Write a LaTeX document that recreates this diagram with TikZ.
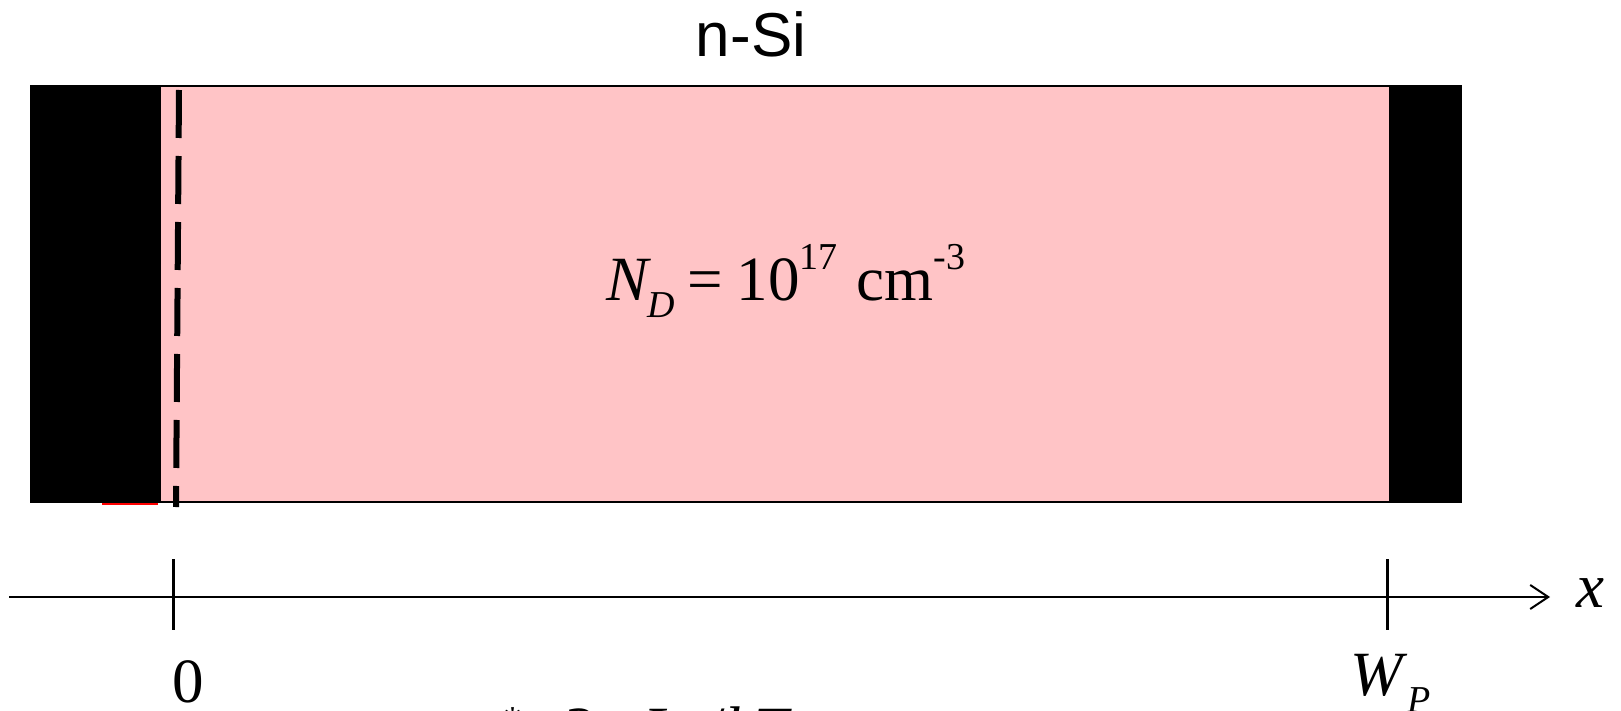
\documentclass[tikz,border=0pt]{standalone}
\usepackage{fontspec}
\setmainfont{Liberation Serif}
\setsansfont{Liberation Sans}
\usetikzlibrary{arrows.meta}
\definecolor{nsipink}{RGB}{255,196,198}
\newcommand{\mysubs}[1]{\raisebox{-0.28em}{\fontsize{38}{40}\selectfont #1}}
\newcommand{\mysups}[1]{\raisebox{0.48em}{\fontsize{38}{40}\selectfont #1}}
\newcommand{\mystar}{\raisebox{0.27em}{\fontsize{38}{40}\selectfont *}}
\tikzset{
  contact/.style={fill=black, draw=black, line width=1pt},
  bulk/.style={fill=nsipink, draw=none},
  edgeline/.style={line width=2pt, draw=black},
  axisline/.style={line width=2pt, -{Straight Barb[length=18pt,width=24pt,line width=2pt]}},
  tickmark/.style={line width=3pt},
  bigtext/.style={font=\fontsize{63}{70}\selectfont, inner sep=0pt},
  sitext/.style={font=\sffamily\fontsize{62}{70}\selectfont, inner sep=0pt},
  dashline/.style={line width=6pt, dash pattern=on 48pt off 18pt}
}
\begin{document}
\begin{tikzpicture}[x=1pt,y=-1pt]
\useasboundingbox (0,0) rectangle (1621,711);
% bulk and contacts
\fill[bulk] (160,86) rectangle (1389,502);
\draw[edgeline] (160,86) -- (1389,86);
\draw[edgeline] (160,502) -- (1389,502);
\filldraw[contact] (30,86) rectangle (160,502);
\filldraw[contact] (1389,86) rectangle (1461,502);
\draw[red, line width=2pt] (102,503.5) -- (158,503.5);
% dashed boundary
\coordinate (dtop) at (179,90);
\coordinate (dbot) at (176,507);
\draw[dashline] (dtop) -- (dbot);
% labels
\node[sitext, anchor=base] (nsi) at (751,57) {n-Si};
\node[bigtext, anchor=base west] (nd) at (606,300) {\textit{N}\kern-0.06em\mysubs{\textit{D}}\kern0.2em=\kern0.22em10\mysups{17}\kern0.3em cm\mysups{-3}};
% axis
\coordinate (axs) at (9,597);
\coordinate (axe) at (1550,597);
\draw[axisline] (axs) -- (axe);
\coordinate (t0a) at (173,559);
\coordinate (t0b) at (173,630);
\coordinate (twa) at (1387,559);
\coordinate (twb) at (1387,630);
\draw[tickmark] (t0a) -- (t0b);
\draw[tickmark] (twa) -- (twb);
\node[bigtext, anchor=base] (zero) at (188,702) {0};
\node[bigtext, anchor=base west] (wp) at (1350,695) {\textit{W}\mysubs{\textit{P}}};
\node[bigtext, anchor=base west] (xl) at (1576,607) {\textit{x}};
% cut-off formula at the bottom edge
\node[bigtext, anchor=base west] (form) at (472,750) {\textit{n}\mystar\kern3.5pt=\kern3.5pt2\kern7.5pt\textit{q}\kern7.5pt\textit{L}\kern2pt\mysubs{\textit{D}}/\textit{kT}};
\end{tikzpicture}
\end{document}
